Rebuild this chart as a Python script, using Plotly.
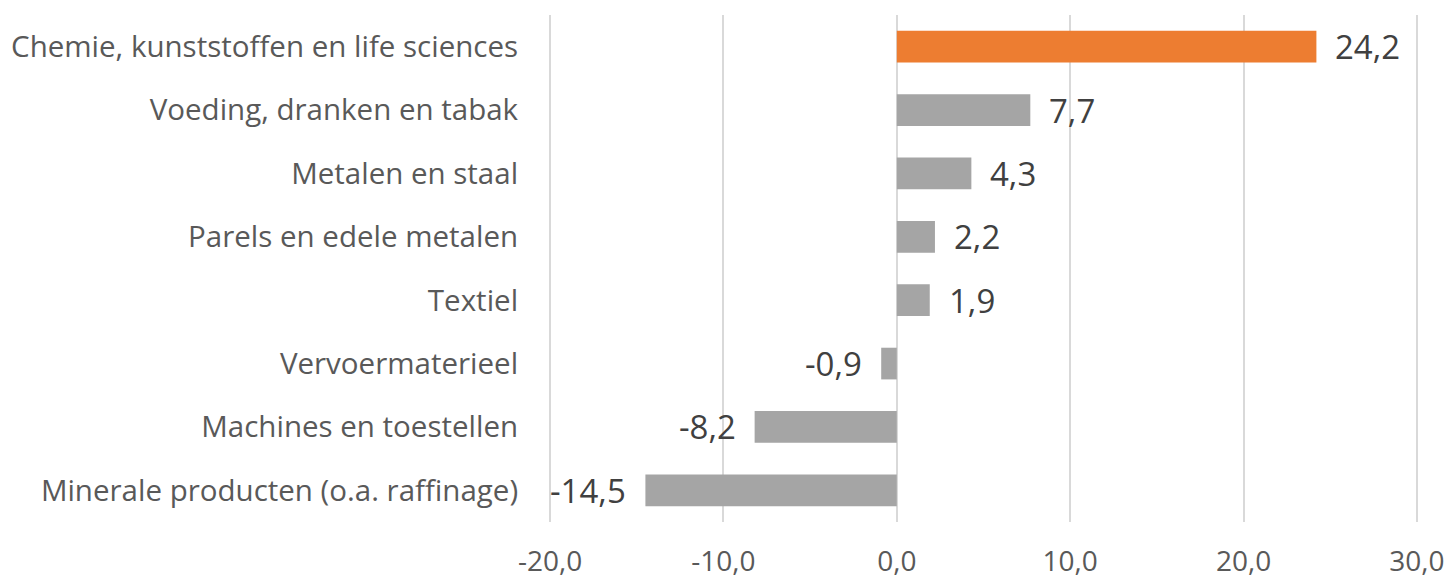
import plotly.graph_objects as go

categories = [
    "Chemie, kunststoffen en life sciences",
    "Voeding, dranken en tabak",
    "Metalen en staal",
    "Parels en edele metalen",
    "Textiel",
    "Vervoermaterieel",
    "Machines en toestellen",
    "Minerale producten (o.a. raffinage)",
]
values = [24.2, 7.7, 4.3, 2.2, 1.9, -0.9, -8.2, -14.5]
highlight = "Chemie, kunststoffen en life sciences"
tick_vals = [-20, -10, 0, 10, 20, 30]


def fmt(v):
    return f"{v:.1f}".replace(".", ",")


tick_text = [fmt(v) for v in tick_vals]
colors = ["#ed7d31" if c == highlight else "#a5a5a5" for c in categories]

font_family = "Open Sans"

fig = go.Figure(
    go.Bar(
        x=values,
        y=categories,
        orientation="h",
        marker=dict(color=colors, line=dict(width=0)),
        width=0.5,
        hoverinfo="x+y",
    )
)

for c, v in zip(categories, values):
    fig.add_annotation(
        x=v,
        y=c,
        xref="x",
        yref="y",
        text=fmt(v),
        showarrow=False,
        xanchor="left" if v >= 0 else "right",
        xshift=17 if v >= 0 else -17,
        font=dict(family=font_family, size=33, color="#404040"),
    )

fig.update_layout(
    width=1452,
    height=579,
    margin=dict(l=549, r=34, t=15, b=57, autoexpand=False),
    paper_bgcolor="white",
    plot_bgcolor="white",
    showlegend=False,
    font=dict(family=font_family, color="#595959"),
    xaxis=dict(
        range=[-20.06, 30.06],
        tickvals=tick_vals,
        ticktext=tick_text,
        showgrid=True,
        gridcolor="#d9d9d9",
        gridwidth=2,
        zeroline=False,
        showline=False,
        ticks="outside",
        ticklen=14,
        tickcolor="rgba(0,0,0,0)",
        tickfont=dict(family=font_family, size=28, color="#595959"),
        automargin=False,
    ),
    yaxis=dict(
        autorange="reversed",
        showgrid=False,
        zeroline=False,
        showline=False,
        ticks="outside",
        ticklen=24,
        tickcolor="rgba(0,0,0,0)",
        tickfont=dict(family=font_family, size=29.5, color="#595959"),
        automargin=False,
    ),
)

fig.write_html(
    "out.html",
    config={"displayModeBar": False},
    post_script="document.body.style.margin='0';document.body.style.overflow='hidden';",
)
